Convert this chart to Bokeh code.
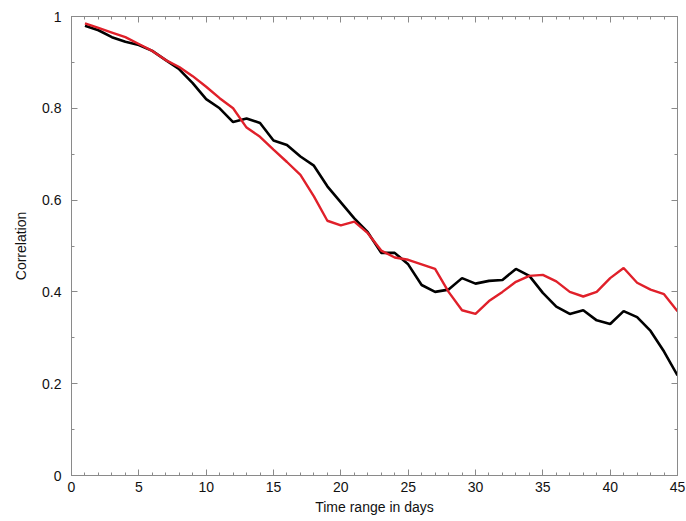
from bokeh.plotting import figure
from bokeh.models import FixedTicker, LinearAxis, Range1d
from bokeh.embed import file_html
from bokeh.resources import INLINE

days = list(range(1, 46))
black_series = [0.980, 0.970, 0.955, 0.945, 0.938, 0.925, 0.905, 0.885, 0.855, 0.820,
                0.800, 0.770, 0.778, 0.768, 0.730, 0.720, 0.695, 0.675, 0.630, 0.595,
                0.560, 0.530, 0.485, 0.485, 0.460, 0.415, 0.400, 0.405, 0.430, 0.418,
                0.424, 0.426, 0.450, 0.435, 0.398, 0.368, 0.352, 0.360, 0.338, 0.330,
                0.358, 0.345, 0.315, 0.270, 0.218]
red_series = [0.985, 0.975, 0.965, 0.955, 0.940, 0.925, 0.905, 0.890, 0.870, 0.847,
              0.822, 0.800, 0.758, 0.738, 0.710, 0.683, 0.655, 0.608, 0.555, 0.545,
              0.553, 0.528, 0.490, 0.475, 0.470, 0.460, 0.450, 0.400, 0.360, 0.352,
              0.380, 0.400, 0.422, 0.435, 0.437, 0.423, 0.400, 0.390, 0.400, 0.430,
              0.452, 0.420, 0.405, 0.395, 0.358]
x_ticks = [0, 5, 10, 15, 20, 25, 30, 35, 40, 45]
x_minor = list(range(0, 46))
y_ticks = [0, 0.2, 0.4, 0.6, 0.8, 1.0]
y_tick_labels = ["0", "0.2", "0.4", "0.6", "0.8", "1"]
y_minor = [0, 0.1, 0.2, 0.3, 0.4, 0.5, 0.6, 0.7, 0.8, 0.9, 1.0]
x_title = "Time range in days"
y_title = "Correlation"

FONT = "Liberation Sans"
AX = "#8a8a8a"

p = figure(width=686, height=521, output_backend="svg", toolbar_location=None,
           x_range=Range1d(0, 45), y_range=Range1d(0, 1),
           min_border_left=71, min_border_right=9, min_border_top=16, min_border_bottom=46)
p.outline_line_color = AX
p.outline_line_width = 1
p.grid.visible = False
p.background_fill_color = "white"
p.border_fill_color = "white"

p.line(days, black_series, line_color="black", line_width=2.6)
p.line(days, red_series, line_color="#e0202a", line_width=2.4)

def style(ax, ticks, minor):
    ax.ticker = FixedTicker(ticks=ticks, minor_ticks=minor)
    ax.axis_line_color = AX
    ax.major_tick_line_color = AX
    ax.minor_tick_line_color = AX
    ax.major_tick_in = 6
    ax.major_tick_out = 0
    ax.minor_tick_in = 3
    ax.minor_tick_out = 0
    ax.major_label_text_font = FONT
    ax.major_label_text_font_size = "14px"
    ax.major_label_text_color = "#111111"
    ax.axis_label_text_font = FONT
    ax.axis_label_text_font_size = "14px"
    ax.axis_label_text_font_style = "normal"
    ax.axis_label_text_color = "#111111"

xa = p.xaxis[0]
style(xa, x_ticks, x_minor)
xa.axis_label = x_title
xa.major_label_standoff = 6
xa.axis_label_standoff = 4

ya = p.yaxis[0]
style(ya, y_ticks, y_minor)
ya.axis_label = y_title
ya.major_label_overrides = {t: l for t, l in zip(y_ticks, y_tick_labels)}
ya.major_label_standoff = 10
ya.axis_label_standoff = 10

top = LinearAxis()
style(top, x_ticks, x_minor)
top.major_label_overrides = {t: "" for t in x_ticks}
p.add_layout(top, "above")
right = LinearAxis()
style(right, y_ticks, y_minor)
right.major_label_overrides = {t: "" for t in y_ticks}
p.add_layout(right, "right")

open("out.html", "w").write(file_html(p, INLINE))
